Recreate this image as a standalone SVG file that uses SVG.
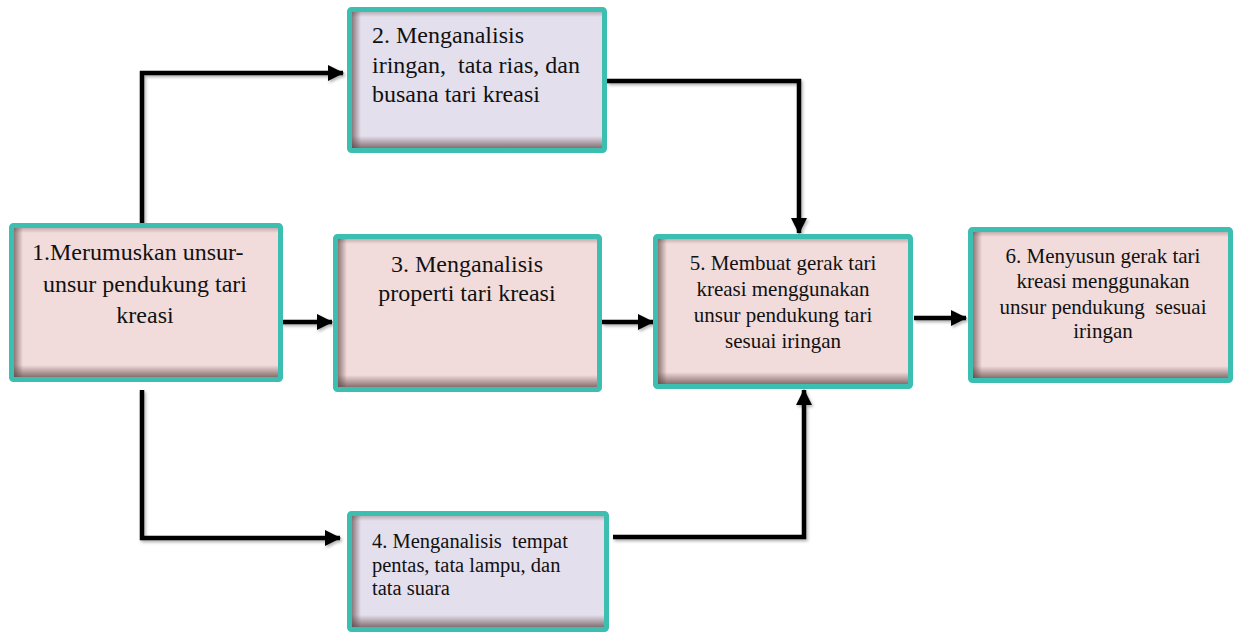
<svg xmlns="http://www.w3.org/2000/svg" width="1236" height="633" viewBox="0 0 1236 633">
<style>
.frame{stroke:#3cbeb0;stroke-width:5;}
.pink{fill:#f2dcdb;}
.lav{fill:#e4dfec;}
text{font-family:'Liberation Serif','Times New Roman',Times,serif;fill:#111;white-space:pre;}
.c{text-anchor:middle;}
.conn{fill:none;stroke:#000;stroke-width:4.5;stroke-linejoin:miter;marker-end:url(#ah);}
</style>
<defs>
<marker id="ah" markerUnits="userSpaceOnUse" markerWidth="16" markerHeight="16" refX="15" refY="8" orient="auto">
<path d="M0,0 L16,8 L0,16 Z" fill="#000"/>
</marker>
<linearGradient id="shL" x1="0" y1="0" x2="1" y2="0">
<stop offset="0" stop-color="#5a4040" stop-opacity="0.65"/>
<stop offset="1" stop-color="#5a4040" stop-opacity="0"/>
</linearGradient>
<linearGradient id="shB" x1="0" y1="1" x2="0" y2="0">
<stop offset="0" stop-color="#5a4040" stop-opacity="0.7"/>
<stop offset="1" stop-color="#5a4040" stop-opacity="0"/>
</linearGradient>
<linearGradient id="shT" x1="0" y1="0" x2="0" y2="1">
<stop offset="0" stop-color="#5a4040" stop-opacity="0.3"/>
<stop offset="1" stop-color="#5a4040" stop-opacity="0"/>
</linearGradient>
<filter id="ds" x="-10%" y="-10%" width="130%" height="130%">
<feDropShadow dx="1.5" dy="2" stdDeviation="1.5" flood-color="#000" flood-opacity="0.3"/>
</filter>
</defs>

<g id="connectors" filter="url(#ds)">
<path class="conn" d="M142,224 V73 H343"/>
<path class="conn" d="M142,390 V538 H340"/>
<path class="conn" d="M281,322 H332"/>
<path class="conn" d="M602,322 H653"/>
<path class="conn" d="M607,81 H799 V233"/>
<path class="conn" d="M613,537 H804 V390"/>
<path class="conn" d="M914,318 H966"/>
</g>

<g id="node1">
<rect class="pink" x="11.5" y="225.5" width="269" height="154" rx="2"/>
<rect x="14" y="228" width="9" height="149" fill="url(#shL)"/>
<rect x="14" y="365" width="264" height="12" fill="url(#shB)"/>
<rect x="14" y="228" width="264" height="5" fill="url(#shT)"/>
<rect class="frame" x="11.5" y="225.5" width="269" height="154" rx="2" fill="none"/>
<text font-family="'Liberation Serif', serif" font-size="24" x="32" y="260">1.Merumuskan unsur-</text>
<text class="c" font-family="'Liberation Serif', serif" font-size="24" x="145" y="292">unsur pendukung tari</text>
<text class="c" font-family="'Liberation Serif', serif" font-size="24" x="145" y="323">kreasi</text>
</g>

<g id="node2">
<rect class="lav" x="349.5" y="9.5" width="255" height="141" rx="2"/>
<rect x="352" y="12" width="9" height="136" fill="url(#shL)"/>
<rect x="352" y="136" width="250" height="12" fill="url(#shB)"/>
<rect x="352" y="12" width="250" height="5" fill="url(#shT)"/>
<rect class="frame" x="349.5" y="9.5" width="255" height="141" rx="2" fill="none"/>
<text font-size="24" x="372" y="43">2. Menganalisis</text>
<text font-size="24" x="372" y="73">iringan,  tata rias, dan</text>
<text font-size="24" x="372" y="102">busana tari kreasi</text>
</g>

<g id="node3">
<rect class="pink" x="335.5" y="236.5" width="264" height="153" rx="2"/>
<rect x="338" y="239" width="9" height="148" fill="url(#shL)"/>
<rect x="338" y="375" width="259" height="12" fill="url(#shB)"/>
<rect x="338" y="239" width="259" height="5" fill="url(#shT)"/>
<rect class="frame" x="335.5" y="236.5" width="264" height="153" rx="2" fill="none"/>
<text class="c" font-size="24" x="467" y="272">3. Menganalisis</text>
<text class="c" font-size="24" x="467" y="301">properti tari kreasi</text>
</g>

<g id="node4">
<rect class="lav" x="349.5" y="513.5" width="257" height="116" rx="2"/>
<rect x="352" y="516" width="9" height="111" fill="url(#shL)"/>
<rect x="352" y="615" width="252" height="12" fill="url(#shB)"/>
<rect x="352" y="516" width="252" height="5" fill="url(#shT)"/>
<rect class="frame" x="349.5" y="513.5" width="257" height="116" rx="2" fill="none"/>
<text font-size="20.5" x="372" y="548">4. Menganalisis  tempat</text>
<text font-size="20.5" x="372" y="572">pentas, tata lampu, dan</text>
<text font-size="20.5" x="372" y="595">tata suara</text>
</g>

<g id="node5">
<rect class="pink" x="655.5" y="236.5" width="255" height="150" rx="2"/>
<rect x="658" y="239" width="9" height="145" fill="url(#shL)"/>
<rect x="658" y="372" width="250" height="12" fill="url(#shB)"/>
<rect x="658" y="239" width="250" height="5" fill="url(#shT)"/>
<rect class="frame" x="655.5" y="236.5" width="255" height="150" rx="2" fill="none"/>
<text class="c" font-size="21" x="783" y="270">5. Membuat gerak tari</text>
<text class="c" font-size="21" x="783" y="296">kreasi menggunakan</text>
<text class="c" font-size="21" x="783" y="322">unsur pendukung tari</text>
<text class="c" font-size="21" x="783" y="348">sesuai iringan</text>
</g>

<g id="node6">
<rect class="pink" x="970.5" y="229.5" width="260" height="151" rx="2"/>
<rect x="973" y="232" width="9" height="146" fill="url(#shL)"/>
<rect x="973" y="366" width="255" height="12" fill="url(#shB)"/>
<rect x="973" y="232" width="255" height="5" fill="url(#shT)"/>
<rect class="frame" x="970.5" y="229.5" width="260" height="151" rx="2" fill="none"/>
<text class="c" font-size="21" x="1103" y="263">6. Menyusun gerak tari</text>
<text class="c" font-size="21" x="1103" y="288">kreasi menggunakan</text>
<text class="c" font-size="21" x="1103" y="314">unsur pendukung  sesuai</text>
<text class="c" font-size="21" x="1103" y="338">iringan</text>
</g>
</svg>
